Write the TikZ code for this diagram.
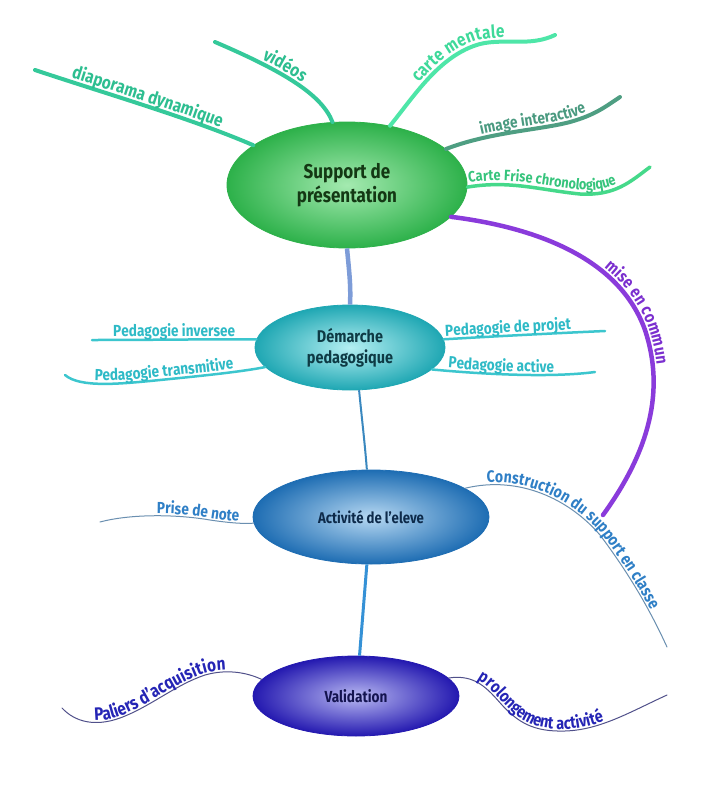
\documentclass[tikz,border=0pt]{standalone}
\usepackage{fontspec}
\setmainfont{Fira Sans}[FakeStretch=0.85]
\usetikzlibrary{shapes.geometric,decorations.text}
\definecolor{sIn}{HTML}{A4EAB0}
\definecolor{sOut}{HTML}{2DB14A}
\definecolor{sTxt}{HTML}{143814}
\definecolor{dIn}{HTML}{B4EFF2}
\definecolor{dOut}{HTML}{1FA7B3}
\definecolor{dTxt}{HTML}{0E3A44}
\definecolor{aIn}{HTML}{B6D8F2}
\definecolor{aOut}{HTML}{1E6DB3}
\definecolor{aTxt}{HTML}{0D2A4A}
\definecolor{vIn}{HTML}{B8B8F2}
\definecolor{vOut}{HTML}{2419B0}
\definecolor{vTxt}{HTML}{141450}
\definecolor{cDia}{HTML}{35C99A}
\definecolor{tDia}{HTML}{2DBE90}
\definecolor{cMen}{HTML}{4EE6A8}
\definecolor{tMen}{HTML}{3ED99A}
\definecolor{cImg}{HTML}{4E9E82}
\definecolor{tImg}{HTML}{4A9A80}
\definecolor{cFri}{HTML}{45D98A}
\definecolor{tFri}{HTML}{36C47C}
\definecolor{cPur}{HTML}{8A3BDB}
\definecolor{tPur}{HTML}{7B2FCF}
\definecolor{cPed}{HTML}{3CC6CE}
\definecolor{tPed}{HTML}{2EBAC6}
\definecolor{cAct}{HTML}{6A8FB0}
\definecolor{tAct}{HTML}{2F7FC6}
\definecolor{cVal}{HTML}{50508A}
\definecolor{tVal}{HTML}{2525B5}
\definecolor{cSD}{HTML}{7D9CD8}
\definecolor{cDA}{HTML}{3A88BF}
\definecolor{cAV}{HTML}{3591D6}
\newcommand\lft[2]{\fontsize{#1}{#1}\selectfont\bfseries\color{#2}}
\begin{document}
\begin{tikzpicture}[x=1pt,y=-1pt,
  mainnode/.style={ellipse, inner sep=0pt, align=center, line width=0.8pt},
  bthick/.style={line width=4pt, line cap=round},
  bmed/.style={line width=2.5pt, line cap=round},
  bthin/.style={line width=1pt, line cap=round}]
\fill[white] (0,0) rectangle (703,800);
\useasboundingbox (0,0) rectangle (703,800);

% main nodes
\node[mainnode, minimum width=240pt, minimum height=126pt, inner color=sIn, outer color=sOut, draw=sOut, text=sTxt, font={\fontsize{20}{24}\selectfont\bfseries}] (sup) at (347,185) {Support de\\présentation};
\node[mainnode, minimum width=190pt, minimum height=85pt, inner color=dIn, outer color=dOut, draw=dOut, text=dTxt, font={\fontsize{17}{21}\selectfont\bfseries}] (dem) at (350,347.5) {Démarche\\pedagogique};
\node[mainnode, minimum width=236pt, minimum height=94pt, inner color=aIn, outer color=aOut, draw=aOut, text=aTxt, font={\fontsize{15.5}{18}\selectfont\bfseries}] (act) at (371,517) {Activité de l'eleve};
\node[mainnode, minimum width=206pt, minimum height=80pt, inner color=vIn, outer color=vOut, draw=vOut, text=vTxt, font={\fontsize{16}{19}\selectfont\bfseries}] (val) at (356,696) {Validation};

% free ends
\coordinate (d1) at (35,70);
\coordinate (v1) at (215,42);
\coordinate (cm) at (555,35);
\coordinate (ii) at (620,97);
\coordinate (cf) at (650,167);
\coordinate (mc) at (603,515);
\coordinate (pi) at (92,340);
\coordinate (pt) at (65,375);
\coordinate (pp) at (605,331);
\coordinate (pa) at (595,372);
\coordinate (pn) at (100,522);
\coordinate (cs) at (667,647);
\coordinate (pl) at (62,708);
\coordinate (pr) at (667,695);

% main connectors
\draw[line width=4.5pt, draw=cSD] (sup.south) .. controls (349,270) and (351,285) .. (dem.north);
\draw[line width=2pt, draw=cDA] (dem.-78) .. controls (362,420) and (365,445) .. (act.95);
\draw[line width=3pt, draw=cAV] (act.265) -- (val.85);

% support branches
\draw[bthick, draw=cDia, postaction={decorate, decoration={text along path, text align=center, raise=4pt, text={|\lft{18}{tDia}|diaporama dynamique}}}]
  (d1) .. controls (110,95) and (190,118) .. (sup.157);
\draw[bthick, draw=cDia, postaction={decorate, decoration={text along path, text align=center, raise=4pt, text={|\lft{18}{tDia}|vidéos}}}]
  (v1) .. controls (285,72) and (322,95) .. (sup.103);
\draw[bthick, draw=cMen, postaction={decorate, decoration={text along path, text align=center, raise=4pt, text={|\lft{18}{tMen}|carte mentale}}}]
  (sup.54) .. controls (415,95) and (440,55) .. (480,44) .. controls (505,38) and (530,47) .. (cm);
\draw[bthick, draw=cImg, postaction={decorate, decoration={text along path, text align=center, raise=4pt, text={|\lft{16}{tImg}|image interactive}}}]
  (sup.20) .. controls (490,132) and (540,130) .. (570,122) .. controls (595,115) and (605,107) .. (ii);
\draw[line width=3.5pt, line cap=round, draw=cFri, postaction={decorate, decoration={text along path, text align={align=left, left indent=2pt}, raise=4pt, text={|\lft{15}{tFri}|Carte Frise chronologique}}}]
  (sup.-1) .. controls (510,180) and (540,190) .. (580,194) .. controls (615,196) and (630,182) .. (cf);
\draw[line width=4.5pt, line cap=round, draw=cPur, postaction={decorate, decoration={text along path, text align=center, raise=4pt, text={|\lft{17}{tPur}|mise en commun}}}]
  (sup.-17) .. controls (540,228) and (620,260) .. (645,330) .. controls (665,390) and (650,450) .. (mc);

% demarche branches
\draw[bmed, draw=cPed, postaction={decorate, decoration={text along path, text align=center, raise=3pt, text={|\lft{16}{tPed}|Pedagogie inversee}}}]
  (pi) .. controls (150,340) and (220,339) .. (dem.175);
\draw[bmed, draw=cPed, postaction={decorate, decoration={text along path, text align=center, raise=3pt, text={|\lft{16}{tPed}|Pedagogie transmitive}}}]
  (pt) .. controls (80,388) and (120,384) .. (160,380) .. controls (200,376) and (240,372) .. (dem.193);
\draw[bmed, draw=cPed, postaction={decorate, decoration={text along path, text align={align=left, left indent=2pt}, raise=3pt, text={|\lft{16}{tPed}|Pedagogie de projet}}}]
  (dem.5) .. controls (500,336) and (560,333) .. (pp);
\draw[bmed, draw=cPed, postaction={decorate, decoration={text along path, text align={align=left, left indent=16pt}, raise=3pt, text={|\lft{16}{tPed}|Pedagogie active}}}]
  (dem.-15) .. controls (480,374) and (550,378) .. (pa);

% activite branches
\draw[bthin, draw=cAct, postaction={decorate, decoration={text along path, text align={align=right, right indent=15pt}, raise=2pt, text={|\lft{16}{tAct}|Prise de note}}}]
  (pn) .. controls (130,514) and (175,514) .. (210,520) .. controls (230,523) and (245,524) .. (act.183);
\draw[bthin, draw=cAct, postaction={decorate, decoration={text along path, text align={align=left, left indent=22pt}, raise=2pt, text={|\lft{16.5}{tAct}|Construction du support en classe}}}]
  (act.17) .. controls (520,475) and (570,500) .. (600,535) .. controls (630,575) and (650,610) .. (cs);

% validation branches
\draw[bthin, draw=cVal, postaction={decorate, decoration={text along path, text align=center, raise=2pt, text={|\lft{18}{tVal}|Paliers d'acquisition}}}]
  (pl) .. controls (75,722) and (95,727) .. (120,718) .. controls (150,707) and (175,685) .. (205,675) .. controls (230,668) and (250,674) .. (val.170);
\draw[bthin, draw=cVal, postaction={decorate, decoration={text along path, text align={align=left, left indent=28pt}, raise=2pt, text={|\lft{17}{tVal}|prolongement activité}}}]
  (val.11) .. controls (475,674) and (487,688) .. (502,705) .. controls (518,722) and (533,732) .. (565,731) .. controls (600,730) and (630,712) .. (pr);
\end{tikzpicture}
\end{document}
